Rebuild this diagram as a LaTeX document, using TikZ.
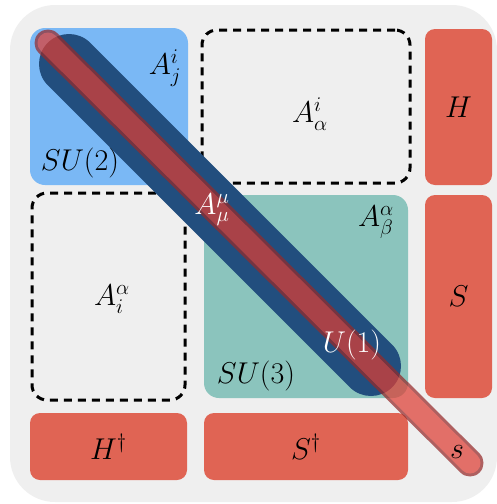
\documentclass[tikz,border=0pt]{standalone}
\usepackage{graphicx}
\usepackage{tikz}
\usetikzlibrary{positioning,calc}
\usepackage{amsmath}

\definecolor{panelgrey}{RGB}{239,239,239}
\definecolor{sutwo}{RGB}{122,184,245}
\definecolor{suthree}{RGB}{139,196,189}
\definecolor{fieldred}{RGB}{224,100,84}
\definecolor{gaugeblue}{RGB}{34,78,126}
\definecolor{bandred}{RGB}{222,62,52}
\definecolor{bandedge}{RGB}{150,42,42}

% math labels drawn at about 29pt
\newcommand{\bigmath}[1]{\scalebox{1.45}{$#1$}}

\begin{document}
\begin{tikzpicture}[
  x=1pt, y=-1pt,
  font=\fontsize{20}{24}\selectfont,
  block/.style={rounded corners=15pt, inner sep=0pt},
  mixbox/.style={draw=black, line width=3pt, dash pattern=on 8pt off 6pt,
    rounded corners=15pt, inner sep=0pt},
  fieldbox/.style={fill=fieldred, rounded corners=10pt, inner sep=0pt}
]
\useasboundingbox (0,0) rectangle (497,504);

% panel behind the blocks
\fill[panelgrey, rounded corners=45pt] (10,5) rectangle (497,502);

% gauge blocks on the diagonal
\node[block, fill=sutwo, minimum width=158pt, minimum height=157pt]
  (su2) at (109,106.5) {};
\node[block, fill=suthree, minimum width=204pt, minimum height=203pt]
  (su3) at (306,296.5) {};

% off-diagonal (dashed) blocks
\node[mixbox, minimum width=208pt, minimum height=153pt]
  (mixup) at (306,106.5) {};
\node[mixbox, minimum width=153pt, minimum height=207pt]
  (mixdown) at (108.5,296.5) {};

% scalar fields: right column and bottom row
\node[fieldbox, minimum width=67pt, minimum height=156pt]
  (higgs) at (458.5,107) {\bigmath{H}};
\node[fieldbox, minimum width=67pt, minimum height=203pt]
  (sing) at (458.5,296.5) {\bigmath{S}};
\node[fieldbox, minimum width=157pt, minimum height=67pt]
  (higgsdag) at (108.5,446.5) {\bigmath{H^{\dagger}}};
\node[fieldbox, minimum width=204pt, minimum height=67pt]
  (singdag) at (306,446.5) {\bigmath{S^{\dagger}}};

% diagonal bands
\coordinate (bluestart) at (69,64);
\coordinate (blueend) at (371,366);
\coordinate (redstart) at (48,43);
\coordinate (redend) at (470,463);
\draw[gaugeblue, line width=60pt, line cap=round] (bluestart) -- (blueend);
\begin{scope}[transparency group, opacity=0.72]
  \draw[bandedge, line width=27pt, line cap=round] (redstart) -- (redend);
  \draw[bandred, line width=21pt, line cap=round] (redstart) -- (redend);
\end{scope}

% labels
\node (aji) at (165,68) {\bigmath{A^{i}_{j}}};
\node (su2lbl) at (80,163) {\bigmath{SU(2)}};
\node (aia) at (310,114) {\bigmath{A^{i}_{\alpha}}};
\node (aai) at (112,299) {\bigmath{A^{\alpha}_{i}}};
\node (aab) at (376,222) {\bigmath{A^{\alpha}_{\beta}}};
\node (su3lbl) at (256,376) {\bigmath{SU(3)}};
\node (amumu) at (212,210) [text=white] {\bigmath{A^{\mu}_{\mu}}};
\node (u1lbl) at (352,345) [text=white] {\bigmath{U(1)}};
\node (slbl) at (457,452) {\bigmath{s}};
\end{tikzpicture}
\end{document}
